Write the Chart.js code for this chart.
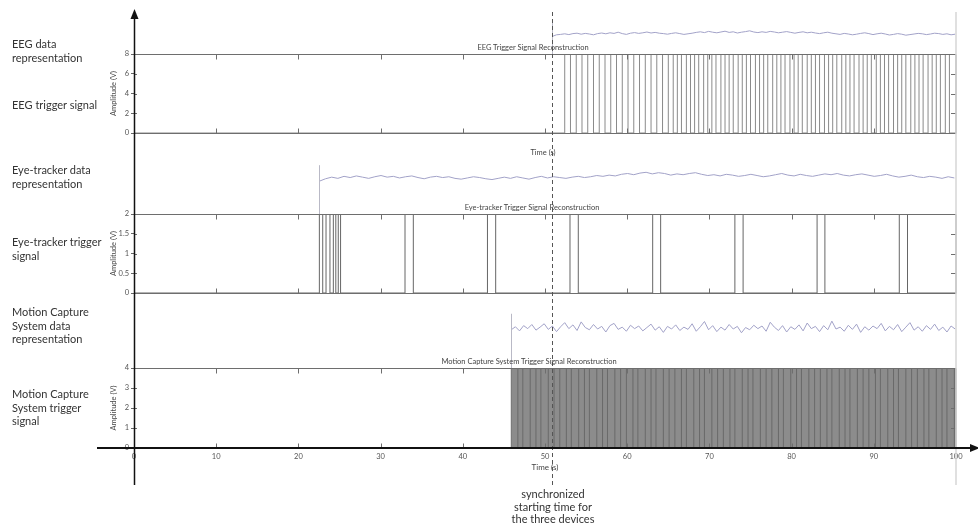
<!DOCTYPE html>
<html lang="en">
<head>
  <meta charset="UTF-8">
  <title>Trigger Signal Reconstruction</title>
  <style>
    body { margin: 0; background: #fff; font-family: 'Lato', 'Open Sans', sans-serif; }
    #wrap { position: relative; width: 978px; height: 525px; overflow: hidden; }
    #chart { position: absolute; left: 0; top: 0; }
    .lbl { position: absolute; left: 12px; font-size: 11px; line-height: 13.5px; color: #333; white-space: nowrap; }
    .ptitle { position: absolute; transform: translateX(-50%); font-size: 7.5px; line-height: 9px; color: #444; white-space: nowrap; }
    .note { position: absolute; left: 553px; top: 488px; transform: translateX(-50%); text-align: center;
            font-size: 11px; line-height: 12.5px; color: #333; white-space: nowrap; }
  </style>
  <script src="https://cdn.jsdelivr.net/npm/chart.js"></script>
</head>
<body>
<div id="wrap">
  <canvas id="chart" width="978" height="525" style="width:978px;height:525px"></canvas>

  <!-- row labels -->
  <div class="lbl" style="top:37px">EEG data<br>representation</div>
  <div class="lbl" style="top:98px">EEG trigger signal</div>
  <div class="lbl" style="top:163px">Eye-tracker data<br>representation</div>
  <div class="lbl" style="top:235px">Eye-tracker trigger<br>signal</div>
  <div class="lbl" style="top:305px">Motion Capture<br>System data<br>representation</div>
  <div class="lbl" style="top:387px">Motion Capture<br>System trigger<br>signal</div>

  <!-- panel titles -->
  <div class="ptitle" style="left:533px;top:43px">EEG Trigger Signal Reconstruction</div>
  <div class="ptitle" style="left:543px;top:148px">Time (s)</div>
  <div class="ptitle" style="left:532px;top:203px">Eye-tracker Trigger Signal Reconstruction</div>
  <div class="ptitle" style="left:529px;top:357px">Motion Capture System Trigger Signal Reconstruction</div>

  <div class="note">synchronized<br>starting time for<br>the three devices</div>
</div>

<script>
  // ---- data ----
  const timeTicks = [0, 10, 20, 30, 40, 50, 60, 70, 80, 90, 100];
  const eegTicks = [0, 2, 4, 6, 8];
  const eyeTicks = [0, 0.5, 1, 1.5, 2];
  const mocapTicks = [0, 1, 2, 3, 4];

  const syncTime = 50.85;

  // EEG
  const eegDataStart = 50.9, eegDataStep = 0.5;
  const eegData = [
    -1.2, -0.4, -0.2, 0.1, -0.3, 0.2, 0.4, -0.1, 0.3, 0.0,
    -0.4, 0.2, 0.5, 0.1, 0.6, 0.3, 0.9, 0.2, -0.2, 0.4,
    0.7, 0.3, 0.6, 1.0, 0.5, 0.8, 0.4, 0.2, -0.1, 0.3,
    0.6, 0.2, -0.2, 0.1, 0.4, 0.8, 1.1, 0.7, 1.3, 0.9,
    0.6, 1.0, 1.4, 0.8, 1.1, 0.5, 0.9, 1.2, 1.6, 1.0,
    0.7, 1.1, 0.8, 1.3, 1.0, 0.6, 0.9, 1.2, 0.8, 0.4,
    0.8, 1.1, 0.6, 0.9, 0.5, 0.2, 0.6, 0.9, 0.4, 0.1,
    -0.2, 0.3, 0.0, -0.4, -0.1, 0.3, 0.6, 0.2, -0.3, 0.1,
    0.4, 0.0, -0.5, -0.2, 0.2, -0.1, -0.6, -0.3, 0.0, 0.3,
    0.1, -0.3, 0.0, 0.4, 0.2, -0.2, 0.1, -0.4, -0.1
  ];
  const eegEdges = [
    52.4, 53.1, 53.8, 54.5, 55.2, 55.9, 56.6, 57.3, 58.0, 58.7,
    59.4, 60.1, 60.8, 61.5, 62.2, 62.9, 63.6, 64.3, 65.0, 65.6,
    66.1, 66.6, 67.2, 67.7, 68.2, 68.7, 69.3, 69.8, 70.3, 70.8,
    71.4, 71.9, 72.4, 72.9, 73.5, 74.0, 74.5, 75.0, 75.6, 76.1,
    76.6, 77.1, 77.7, 78.2, 78.7, 79.2, 79.8, 80.3, 80.8, 81.3,
    81.9, 82.4, 82.9, 83.4, 84.0, 84.5, 85.0, 85.5, 86.1, 86.6,
    87.1, 87.6, 88.2, 88.7, 89.2, 89.7, 90.3, 90.8, 91.3, 91.8,
    92.4, 92.9, 93.4, 93.9, 94.5, 95.0, 95.5, 96.0, 96.6, 97.1,
    97.6, 98.1, 98.7, 99.2
  ];

  // Eye-tracker
  const eyeDataStart = 22.55, eyeDataStep = 0.75;
  const eyeData = [
    -0.9, -0.3, 0.1, -0.2, 0.3, 0.0, 0.4, 0.1, -0.2, 0.2,
    0.5, 0.1, 0.3, -0.1, 0.2, 0.4, 0.0, -0.3, 0.1, 0.3,
    0.0, 0.2, -0.2, -0.4, -0.1, 0.2, 0.0, -0.3, -0.5, -0.2,
    0.1, -0.2, 0.2, -0.1, -0.4, 0.0, 0.3, -0.1, 0.2, 0.0,
    -0.2, 0.1, 0.3, 0.0, 0.2, 0.5, 0.3, 0.6, 0.4, 0.8,
    1.0, 0.7, 1.1, 1.3, 0.9, 1.2, 1.0, 0.6, 0.9, 0.7,
    1.0, 1.2, 0.8, 0.5, 0.7, 0.4, 0.8, 0.6, 0.3, 0.5,
    0.8, 0.5, 0.2, 0.4, 0.7, 1.0, 0.6, 0.4, 0.8, 0.5,
    0.3, 0.6, 0.9, 0.7, 1.0, 0.6, 0.4, 0.7, 0.9, 0.6,
    0.3, 0.5, 0.8, 0.4, 0.1, 0.3, 0.6, 0.2, 0.0, 0.3,
    0.1, -0.2, 0.2, -0.1
  ];
  const eyeEdges = [
    22.55, 22.96, 23.36, 23.84, 24.25, 24.55, 24.85, 25.13,
    32.97, 33.98, 43.0, 44.0, 53.04, 54.05, 63.1, 64.07,
    73.1, 74.1, 83.1, 84.05, 93.1, 94.1
  ];

  // Motion capture system
  const mocapDataStart = 45.9, mocapDataStep = 0.5;
  const mocapData = [
    -0.5, 0.3, -0.8, 0.6, -0.2, 0.9, -0.6, 0.2, 1.1, -0.4,
    0.5, -1.0, 0.3, 1.4, -0.2, 0.8, -0.7, 1.6, 0.1, -0.5,
    0.9, -0.3, 0.4, -1.1, 0.6, 1.2, -0.4, 0.2, -0.9, 0.7,
    -0.2, 0.5, -0.8, 0.1, 1.0, -0.6, 0.3, -1.2, 0.4, -0.3,
    0.8, -0.7, 0.2, -0.4, 1.1, -0.9, 0.3, 1.7, -0.5, 0.6,
    -1.0, 0.2, -0.6, 0.9, -0.3, 0.4, -1.3, 0.1, -0.5, 0.7,
    -0.2, 0.5, -0.9, 1.5, 0.2, -0.7, 0.6, -1.1, 0.3, -0.4,
    0.8, -0.8, 1.3, -0.2, 0.4, -1.0, 0.6, -0.5, 1.8, -0.3,
    0.2, -0.9, 0.7, -0.4, 1.0, -1.2, 0.3, -0.6, 0.5, -0.2,
    1.2, -0.8, 0.4, -0.5, 0.9, -1.0, 0.2, 1.4, -0.6, 0.3,
    -0.9, 0.6, -0.4, 1.0, -0.7, 0.2, -1.1, 0.5, -0.3
  ];
  const mocapEdges = [
    45.9, 46.7, 47.3, 48.2, 48.9, 49.5, 50.4, 51.1, 51.8, 52.6,
    53.2, 54.1, 54.8, 55.4, 56.3, 57.0, 57.6, 58.5, 59.2, 59.9,
    60.7, 61.3, 62.2, 62.9, 63.5, 64.4, 65.1, 65.8, 66.6, 67.2,
    68.1, 68.8, 69.4, 70.3, 71.0, 71.7, 72.5, 73.1, 74.0, 74.7,
    75.3, 76.2, 76.9, 77.6, 78.4, 79.0, 79.9, 80.6, 81.2, 82.1,
    82.8, 83.5, 84.3, 84.9, 85.8, 86.5, 87.1, 88.0, 88.7, 89.4,
    90.2, 90.8, 91.7, 92.4, 93.0, 93.9, 94.6, 95.3, 96.1, 96.7,
    97.6, 98.3, 98.9, 99.8
  ];

  // ---- helpers ----
  function series(start, step, vals) {
    return vals.map((v, i) => ({x: start + i * step, y: v}));
  }
  // each edge toggles the trigger level (low -> high -> low ...)
  function pulses(edges, high) {
    const pts = [{x: 0, y: 0}];
    edges.forEach((t, i) => pts.push({x: t, y: i % 2 ? 0 : high}));
    pts.push({x: 100, y: pts[pts.length - 1].y});
    return pts;
  }
  function ampAxis(ticks, weight) {
    return {
      type: 'linear', position: 'left', stack: 'rows', stackWeight: weight,
      min: ticks[0], max: ticks[ticks.length - 1],
      afterBuildTicks: s => { s.ticks = ticks.map(v => ({value: v})); },
      afterFit: s => { s.width = 26; },
      ticks: {font: {size: 7.5}, color: '#555', padding: 2, autoSkip: false, callback: v => String(v)},
      grid: {drawOnChartArea: false, tickLength: 3, color: '#666'},
      border: {display: false},
      title: {display: true, text: 'Amplitude (V)', font: {size: 7.5}, color: '#444', padding: {top: 1, bottom: 0}}
    };
  }
  function rowAxis(min, max, weight) {
    return {type: 'linear', display: false, position: 'left', stack: 'rows', stackWeight: weight, min: min, max: max};
  }

  // shared decorations: panel boxes, inner ticks, arrows, sync line
  const frame = {
    id: 'frame',
    afterDatasetsDraw(chart) {
      const {ctx, chartArea: a, scales} = chart;
      const xs = scales.x;
      const line = (x1, y1, x2, y2) => { ctx.beginPath(); ctx.moveTo(x1, y1); ctx.lineTo(x2, y2); ctx.stroke(); };
      const panels = [
        [scales.yEEG, scales.yEEGData, eegDataStart, eegData[0]],
        [scales.yEye, scales.yEyeData, eyeDataStart, eyeData[0]],
        [scales.yMo, scales.yMoData, mocapDataStart, mocapData[0]]
      ];
      ctx.save();
      ctx.lineWidth = 1;
      panels.forEach(([p, d, t0, v0]) => {
        const top = Math.round(p.top) + 0.5, bot = Math.round(p.bottom) + 0.5;
        const ox = Math.round(xs.getPixelForValue(t0)) + 0.5;
        ctx.strokeStyle = '#b9b9c6';
        line(ox, d.getPixelForValue(v0) - 16, ox, top);
        ctx.strokeStyle = '#6e6e6e';
        line(a.left, top, a.right, top);
        line(a.left, bot, a.right, bot);
        line(a.right, top, a.right, bot);
        xs.ticks.forEach(tk => {
          if (tk.value <= xs.min || tk.value >= xs.max) return;
          const px = Math.round(xs.getPixelForValue(tk.value)) + 0.5;
          line(px, top, px, top + 5);
          line(px, bot, px, bot - 5);
        });
        p.ticks.forEach(tk => {
          if (tk.value <= p.min || tk.value >= p.max) return;
          const py = Math.round(p.getPixelForValue(tk.value)) + 0.5;
          line(a.right - 5, py, a.right, py);
          line(a.left, py, a.left + 3, py);
        });
      });

      // right border (light)
      ctx.strokeStyle = '#d6d6d6';
      ctx.lineWidth = 1.5;
      line(a.right, a.top - 2, a.right, a.bottom + 37);

      // synchronized start
      const sx = Math.round(xs.getPixelForValue(syncTime)) + 0.5;
      ctx.strokeStyle = '#555';
      ctx.lineWidth = 1;
      ctx.setLineDash([4, 3]);
      line(sx, a.top - 2, sx, a.bottom + 40);
      ctx.setLineDash([]);

      // main axes with arrows
      ctx.strokeStyle = '#111';
      ctx.fillStyle = '#111';
      ctx.lineWidth = 1.5;
      const ax = Math.round(a.left) + 0.5;
      line(ax, a.bottom + 37, ax, a.top + 2);
      ctx.beginPath();
      ctx.moveTo(ax, a.top - 5);
      ctx.lineTo(ax - 4, a.top + 5);
      ctx.lineTo(ax + 4, a.top + 5);
      ctx.closePath();
      ctx.fill();

      const ay = Math.round(scales.yMo.bottom);
      ctx.lineWidth = 2;
      line(a.left - 37, ay, a.right + 16, ay);
      ctx.beginPath();
      ctx.moveTo(a.right + 24, ay);
      ctx.lineTo(a.right + 14, ay - 4);
      ctx.lineTo(a.right + 14, ay + 4);
      ctx.closePath();
      ctx.fill();
      ctx.restore();
    }
  };

  Chart.defaults.font.family = "Lato, 'Open Sans', sans-serif";

  new Chart(document.getElementById('chart'), {
    type: 'line',
    data: {
      datasets: [
        {label: 'EEG data', data: series(eegDataStart, eegDataStep, eegData), yAxisID: 'yEEGData',
         borderColor: '#a2a2c8', borderWidth: 1, pointRadius: 0},
        {label: 'EEG trigger', data: pulses(eegEdges, 8), yAxisID: 'yEEG', stepped: true,
         borderColor: '#8a8a8a', borderWidth: 1, pointRadius: 0},
        {label: 'Eye-tracker data', data: series(eyeDataStart, eyeDataStep, eyeData), yAxisID: 'yEyeData',
         borderColor: '#a2a2c8', borderWidth: 1, pointRadius: 0},
        {label: 'Eye-tracker trigger', data: pulses(eyeEdges, 2), yAxisID: 'yEye', stepped: true,
         borderColor: '#666', borderWidth: 1, pointRadius: 0},
        {label: 'Motion capture data', data: series(mocapDataStart, mocapDataStep, mocapData), yAxisID: 'yMoData',
         borderColor: '#a2a2c8', borderWidth: 1, pointRadius: 0},
        {label: 'Motion capture trigger', data: pulses(mocapEdges, 4), yAxisID: 'yMo', stepped: true,
         borderColor: '#6a6a6a', borderWidth: 1, pointRadius: 0},
        {label: 'Motion capture active', data: [{x: mocapEdges[0], y: 4}, {x: 100, y: 4}], yAxisID: 'yMo',
         borderWidth: 0, pointRadius: 0, fill: 'origin', backgroundColor: '#8c8c8c'}
      ]
    },
    options: {
      responsive: false,
      animation: false,
      layout: {padding: {left: 108, right: 22, top: 14, bottom: 47}},
      plugins: {legend: {display: false}, tooltip: {enabled: false}},
      scales: {
        x: {
          type: 'linear', position: 'bottom', min: 0, max: 100,
          afterBuildTicks: s => { s.ticks = timeTicks.map(v => ({value: v})); },
          afterFit: s => { s.height = 30; },
          ticks: {font: {size: 7.5}, color: '#555', padding: 4, maxRotation: 0, autoSkip: false},
          grid: {drawOnChartArea: false, drawTicks: false},
          border: {display: false},
          title: {display: true, text: 'Time (s)', font: {size: 8}, color: '#444', padding: {top: 0, bottom: 6}}
        },
        // stacked rows, bottom to top
        yMo: ampAxis(mocapTicks, 80),
        yMoData: rowAxis(-10.7, 9.3, 75),
        yEye: ampAxis(eyeTicks, 79),
        yEyeData: rowAxis(-9, 11, 81),
        yEEG: ampAxis(eegTicks, 79),
        yEEGData: rowAxis(-10, 10, 40)
      }
    },
    plugins: [frame]
  });
</script>
</body>
</html>
